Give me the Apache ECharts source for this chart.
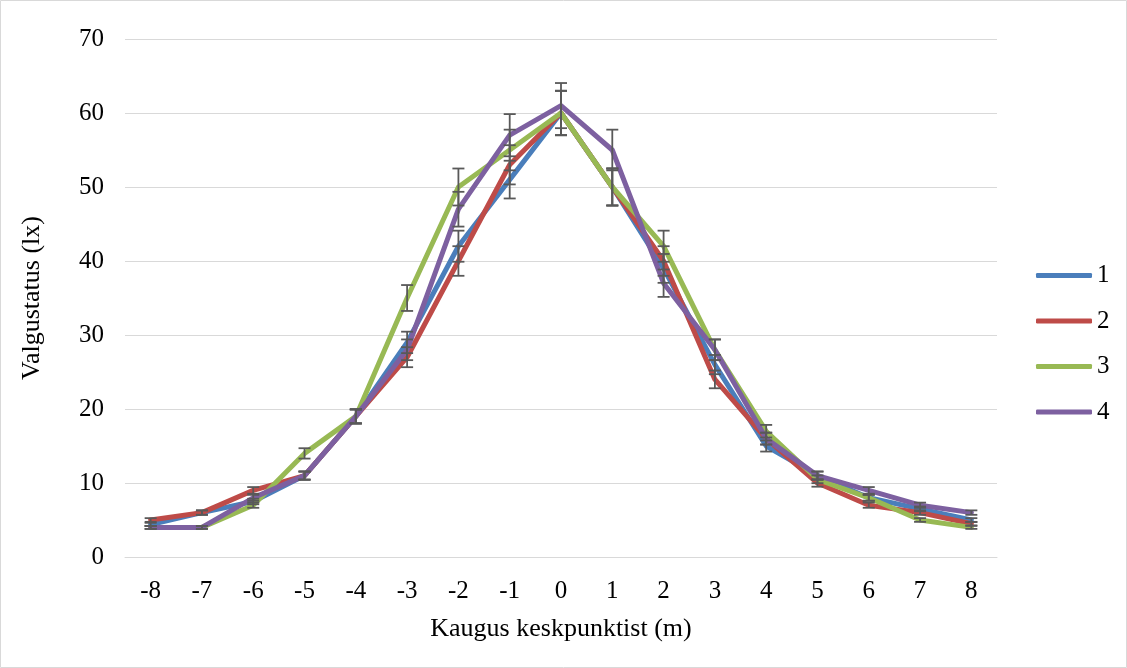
<!DOCTYPE html>
<html>
<head>
<meta charset="utf-8">
<script src="https://cdn.jsdelivr.net/npm/echarts@6/dist/echarts.min.js"></script>
<style>
  html, body { margin: 0; padding: 0; background: #fff; }
  #chart { width: 1127px; height: 668px; }
</style>
</head>
<body>
<div id="chart"></div>
<script>
// Distance from the centre point (m)
const distances = ['-8','-7','-6','-5','-4','-3','-2','-1','0','1','2','3','4','5','6','7','8'];
// Illuminance (lx) per measurement series
const series1 = [4.4, 6, 7.5, 11, 19, 29, 42, 51, 60, 50, 39, 26, 15, 11, 8, 6.5, 5];
const series2 = [5, 6, 9, 11, 19, 27, 40, 53, 60, 50, 40, 24, 16, 10, 7, 6, 4.5];
const series3 = [4, 4, 7, 14, 19, 35, 50, 55, 60, 50, 42, 28, 17, 10.5, 8, 5, 4];
const series4 = [4, 4, 8, 11, 19, 28, 47, 57, 61, 55, 37, 28, 16, 11, 9, 7, 6];
const seriesNames = ['1', '2', '3', '4'];
const yTicks = [0, 10, 20, 30, 40, 50, 60, 70];
// Error bars: 5 % of each value
const errorPct = 0.05;

const colors = ['#4A7EBB', '#BE4B48', '#98B954', '#7D60A0'];
const allSeries = [series1, series2, series3, series4];
const serif = '"Liberation Serif", "Times New Roman", serif';

const chart = echarts.init(document.getElementById('chart'));

const lineSeries = allSeries.map((vals, i) => ({
  name: seriesNames[i],
  type: 'line',
  data: vals,
  symbol: 'none',
  z: 3,
  lineStyle: { width: 5, color: colors[i], cap: 'round', join: 'round' },
  itemStyle: { color: colors[i] }
}));

const errorSeries = allSeries.map((vals, i) => ({
  type: 'custom',
  name: 'err' + i,
  z: 4,
  silent: true,
  data: vals.map((v, k) => [k, v * (1 - errorPct), v * (1 + errorPct)]),
  renderItem: function (params, api) {
    const lo = api.coord([api.value(0), api.value(1)]);
    const hi = api.coord([api.value(0), api.value(2)]);
    const hw = 6;
    const style = { stroke: '#595959', lineWidth: 1.8 };
    return {
      type: 'group',
      children: [
        { type: 'line', shape: { x1: hi[0], y1: hi[1], x2: lo[0], y2: lo[1] }, style },
        { type: 'line', shape: { x1: hi[0] - hw, y1: hi[1], x2: hi[0] + hw, y2: hi[1] }, style },
        { type: 'line', shape: { x1: lo[0] - hw, y1: lo[1], x2: lo[0] + hw, y2: lo[1] }, style }
      ]
    };
  }
}));

chart.setOption({
  animation: false,
  color: colors,
  grid: { left: 125, right: 130, top: 39, bottom: 111 },
  graphic: [{
    type: 'rect',
    shape: { x: 0.5, y: 0.5, width: 1126, height: 667 },
    style: { fill: 'none', stroke: '#d9d9d9', lineWidth: 1 },
    silent: true
  }],
  legend: {
    orient: 'vertical',
    left: 1036,
    top: 263,
    padding: 0,
    itemWidth: 56,
    itemHeight: 5,
    itemGap: 20.5,
    icon: 'roundRect',
    data: seriesNames,
    textStyle: { fontFamily: serif, fontSize: 25, color: '#000', lineHeight: 25 }
  },
  xAxis: {
    type: 'category',
    data: distances,
    boundaryGap: true,
    name: 'Kaugus keskpunktist (m)',
    nameLocation: 'middle',
    nameGap: 59,
    nameTextStyle: { fontFamily: serif, fontSize: 26, color: '#000' },
    axisLine: { lineStyle: { color: '#d9d9d9', width: 1 } },
    axisTick: { show: false },
    axisLabel: { fontFamily: serif, fontSize: 25, color: '#000', margin: 22 }
  },
  yAxis: {
    type: 'value',
    min: yTicks[0],
    max: yTicks[yTicks.length - 1],
    interval: 10,
    name: 'Valgustatus (lx)',
    nameLocation: 'middle',
    nameGap: 80,
    nameTextStyle: { fontFamily: serif, fontSize: 26, color: '#000' },
    axisLine: { show: false },
    axisTick: { show: false },
    splitLine: { lineStyle: { color: '#d9d9d9', width: 1.2 } },
    axisLabel: { fontFamily: serif, fontSize: 25, color: '#000', margin: 21 }
  },
  series: [...lineSeries, ...errorSeries]
});
</script>
</body>
</html>
